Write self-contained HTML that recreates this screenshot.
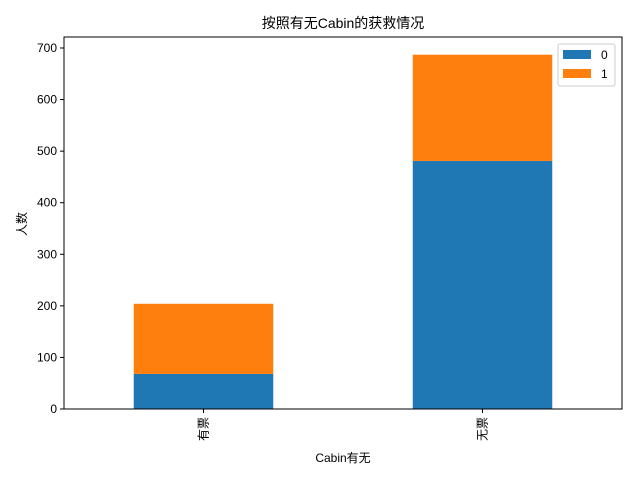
<!DOCTYPE html>
<html><head><meta charset="utf-8"><style>
body{margin:0;background:#fff}
svg text{font-family:"Liberation Sans","Noto Sans CJK SC",sans-serif;fill:#000}
</style></head><body>
<svg id="chart" width="640" height="480" xmlns="http://www.w3.org/2000/svg">
<text x="343" y="28" font-size="14" text-anchor="middle">按照有无Cabin的获救情况</text>
<g id="plot"></g>
<rect x="64" y="37" width="558" height="372" fill="none" stroke="#000" stroke-width="1"/>
<text x="343" y="462" font-size="12" text-anchor="middle">Cabin有无</text>
<text x="26" y="224" font-size="12" text-anchor="middle" transform="rotate(-90 26 224)">人数</text>
<g>
<rect x="558" y="44" width="57" height="42" fill="#fff" stroke="#ccc" rx="2"/>
<rect x="563" y="50" width="28" height="9" fill="#1f77b4"/>
<text x="601" y="59" font-size="12">0</text>
<rect x="563" y="69" width="28" height="9" fill="#ff7f0e"/>
<text x="601" y="78" font-size="12">1</text>
</g>
</svg>
<script>
const categories=["有票","无票"];
const died=[68,481];
const survived=[136,206];
const yTicks=[0,100,200,300,400,500,600,700];
const L=64,R=622,T=37,B=409,yMax=721.35;
const ns="http://www.w3.org/2000/svg";
const g=document.getElementById('plot');
function x(i){return L+(R-L)*(i+0.5)/categories.length;}
function y(v){return B-(B-T)*v/yMax;}
const bw=(R-L)/categories.length*0.5;
function mk(t,a){const e=document.createElementNS(ns,t);for(const k in a)e.setAttribute(k,a[k]);g.appendChild(e);return e;}
categories.forEach((c,i)=>{
 let r=mk('rect',{x:x(i)-bw/2,y:y(died[i]),width:bw,height:B-y(died[i]),fill:'#1f77b4'});
 
 
 let r2=mk('rect',{x:x(i)-bw/2,y:y(died[i]+survived[i]),width:bw,height:y(died[i])-y(died[i]+survived[i]),fill:'#ff7f0e'});
 
 
 let tk=mk('line',{x1:x(i),x2:x(i),y1:B,y2:B+4,stroke:'#000'});
 
 
 let t=mk('text',{x:x(i)+4,y:B+8,'font-size':12,'text-anchor':'end',transform:`rotate(-90 ${x(i)+4} ${B+8})`});
 
 
 t.textContent=c;
});
yTicks.forEach(v=>{
 let tk=mk('line',{x1:L-4,x2:L,y1:y(v),y2:y(v),stroke:'#000'});
 
 
 let t=mk('text',{x:L-7,y:y(v)+4,'font-size':12,'text-anchor':'end'});
 
 
 t.textContent=v;
});
</script>
</body></html>
